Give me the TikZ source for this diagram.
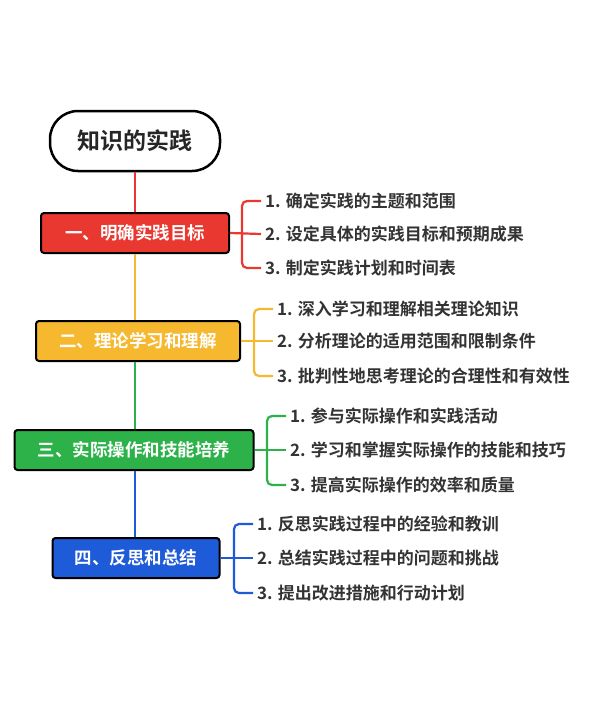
\documentclass[tikz,border=0pt]{standalone}
\usepackage{fontspec}
\setmainfont{Noto Sans CJK SC}[BoldFont={Noto Sans CJK SC Bold}]
\begin{document}
\begin{tikzpicture}[x=1pt,y=-1pt,
  stage/.style={draw=black,line width=2pt,rounded corners=3pt,minimum height=40pt,text=white,font=\fontsize{17.5}{20}\selectfont\bfseries,inner xsep=6pt},
  item/.style={anchor=west,text=black!80,font=\fontsize{17}{20}\selectfont\bfseries,inner sep=0pt},
  br/.style={line width=2.2pt,rounded corners=5pt}]
\definecolor{cr}{HTML}{E8382F}\definecolor{cy}{HTML}{F5B82E}
\definecolor{cg}{HTML}{2DB24A}\definecolor{cb}{HTML}{1E5BD8}
\useasboundingbox[fill=white] (0,0) rectangle (600,702);
\node[draw=black,line width=2.5pt,rounded corners=28pt,minimum width=170pt,minimum height=60pt,font=\fontsize{23}{26}\selectfont\bfseries,text=black!85] (t) at (135,141) {知识的实践};
\node[stage,fill=cr,minimum width=188pt] (s1) at (135,233) {一、明确实践目标};
\node[stage,fill=cy,minimum width=204pt] (s2) at (138,341) {二、理论学习和理解};
\node[stage,fill=cg,minimum width=239pt] (s3) at (134,450) {三、实际操作和技能培养};
\node[stage,fill=cb,minimum width=167pt] (s4) at (136,558) {四、反思和总结};
\draw[cr,line width=2.5pt] (t.south) -- (s1.north);
\draw[cy,line width=2.5pt] (s1.south) -- (s2.north -| s1.south);
\draw[cg,line width=2.5pt] (s2.south -| s1.south) -- (s3.north -| s1.south);
\draw[cb,line width=2.5pt] (s3.south -| s1.south) -- (s4.north -| s1.south);
\foreach \c/\s/\bx/\ya/\yb/\yc/\ix/\A/\B/\C in {
 cr/s1/242/201/234/268/265/{1. 确定实践的主题和范围}/{2. 设定具体的实践目标和预期成果}/{3. 制定实践计划和时间表},
 cy/s2/254/309/341/376/277/{1. 深入学习和理解相关理论知识}/{2. 分析理论的适用范围和限制条件}/{3. 批判性地思考理论的合理性和有效性},
 cg/s3/267/416/450/485/290/{1. 参与实际操作和实践活动}/{2. 学习和掌握实际操作的技能和技巧}/{3. 提高实际操作的效率和质量},
 cb/s4/234/524/558/593/257/{1. 反思实践过程中的经验和教训}/{2. 总结实践过程中的问题和挑战}/{3. 提出改进措施和行动计划}}{
  \node[item] (a\s) at (\ix,\ya) {\A};
  \node[item] (b\s) at (\ix,\yb) {\B};
  \node[item] (c\s) at (\ix,\yc) {\C};
  \draw[\c,br] ([xshift=-4pt]a\s.west) -- (\bx,\ya) -- (\bx,\yc) -- ([xshift=-4pt]c\s.west);
  \draw[\c,line width=2.2pt] (\s.east) -- ([xshift=-4pt]b\s.west);
}
\end{tikzpicture}
\end{document}
